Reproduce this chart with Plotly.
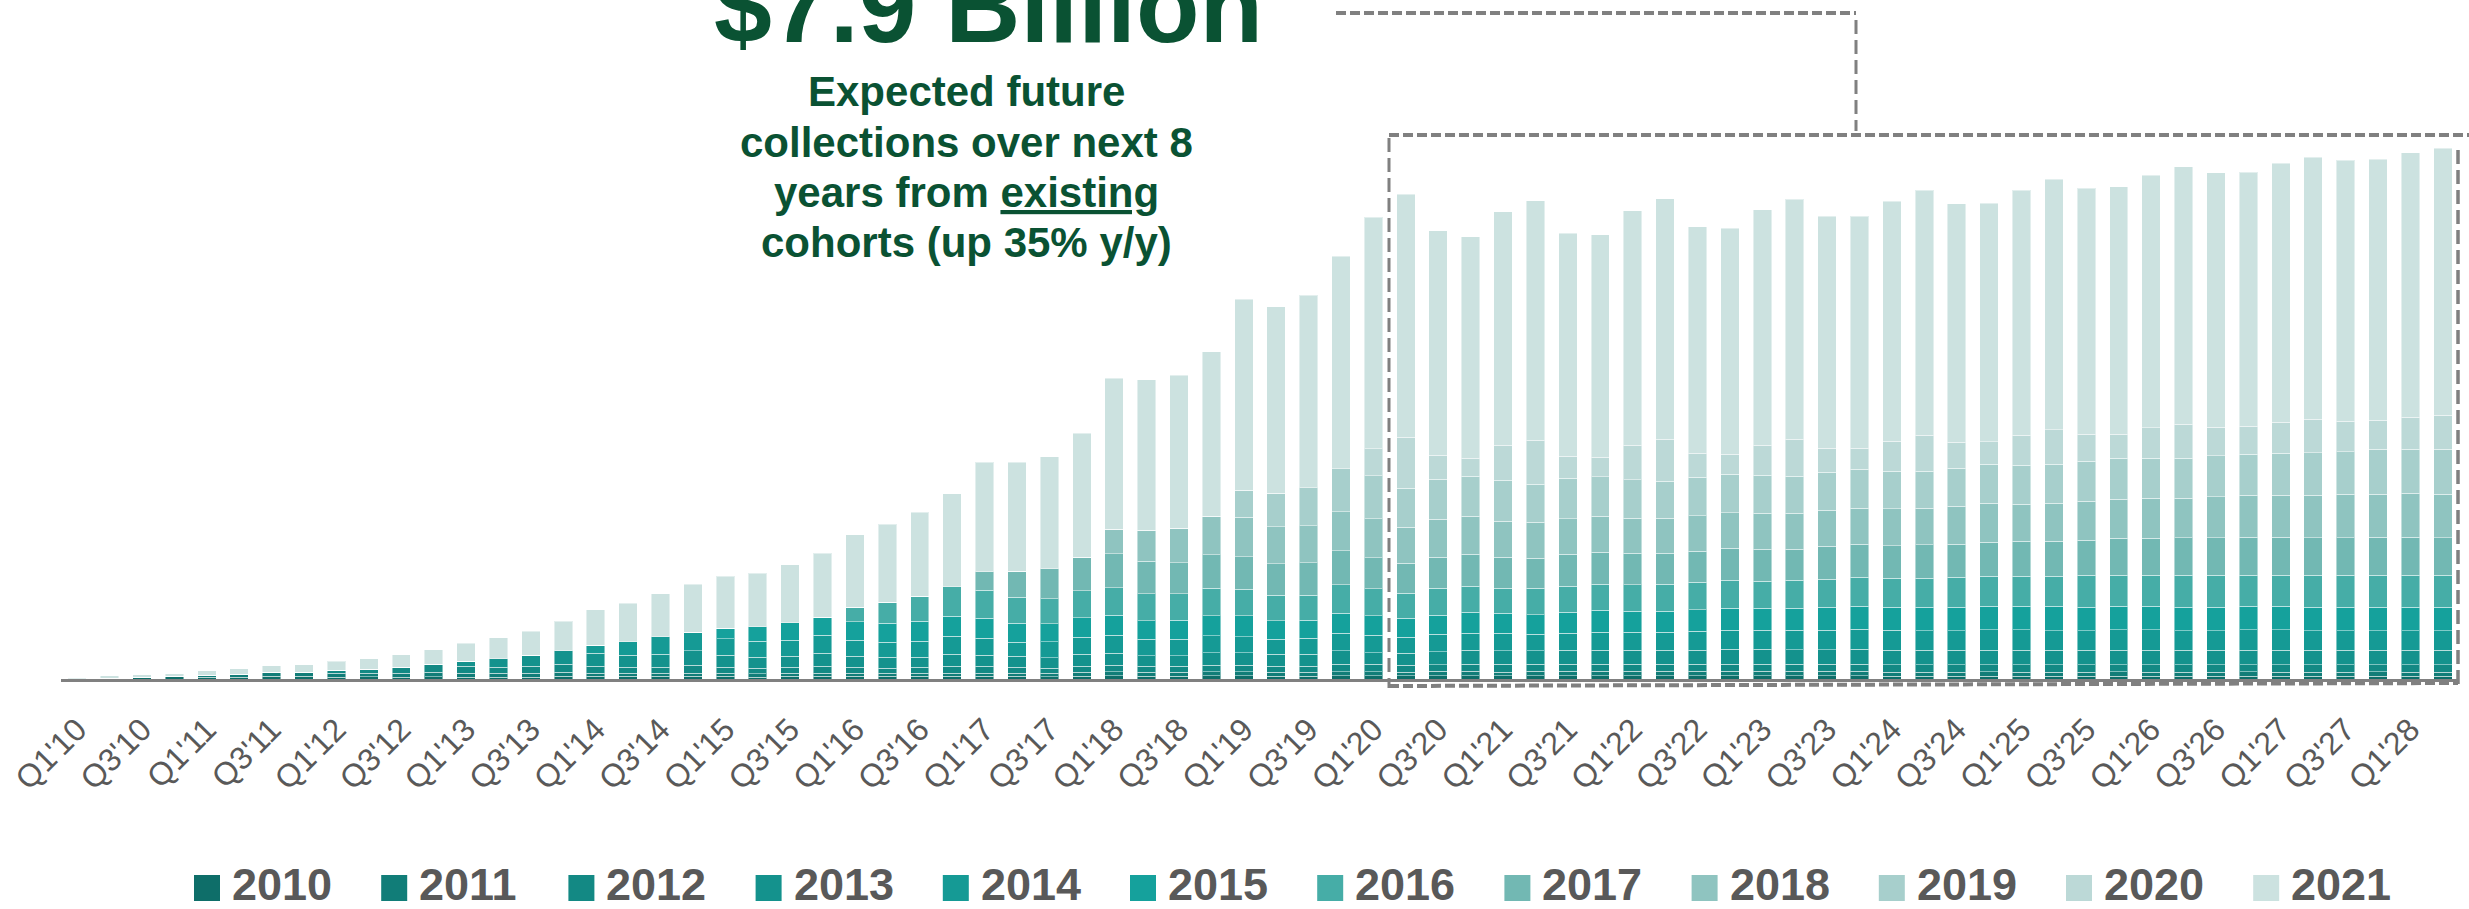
import plotly.graph_objects as go

# ---------------- data (quarterly collections by cohort, relative units) ----------------
quarters = [f"Q{q}'{y:02d}" for y in range(10, 29) for q in range(1, 5)][:74]
tick_labels = quarters[::2]

cohorts = ["2010", "2011", "2012", "2013", "2014", "2015",
           "2016", "2017", "2018", "2019", "2020", "2021"]

c2010 = [0.3, 0.7, 1.7, 2.7, 1.7, 2.0, 2.7, 2.7, 2.0, 2.3,
         2.0, 2.3, 2.0, 2.0, 2.0, 2.7, 2.7, 2.7, 2.7, 2.7,
         2.7, 2.0, 2.7, 2.7, 2.7, 2.7, 2.7, 2.7, 2.7, 2.7,
         2.3, 3.0, 3.3, 3.0, 3.0, 3.3, 3.3, 3.0, 3.0, 3.3,
         3.3, 3.3, 3.3, 3.3, 3.3, 3.3, 3.3, 3.3, 3.3, 3.3,
         3.3, 3.3, 3.3, 3.3, 3.3, 3.3,
         3.0, 3.0, 3.0, 3.0, 3.0, 3.0, 3.0, 3.0, 3.0, 3.0,
         3.0, 3.0, 3.0, 3.0, 3.0, 3.0, 3.0, 3.0]
c2011 = [0, 0, 0, 0, 2.0, 2.7, 4.0, 4.0, 4.0, 3.7,
         4.0, 4.7, 4.0, 4.0, 4.0, 4.0, 3.3, 3.3, 3.3, 3.3,
         3.3, 3.3, 3.3, 3.3, 3.3, 3.3, 3.3, 3.3, 3.3, 3.3,
         3.4, 3.7, 4.0, 3.7, 3.7, 4.0, 4.0, 3.7, 3.7, 4.0,
         4.0, 3.7, 4.4, 4.7, 3.7, 4.4, 4.4, 4.7, 4.4, 4.4,
         4.4, 4.4, 4.4, 4.4, 4.4, 4.4,
         4.0, 4.0, 4.0, 4.3, 4.0, 4.0, 4.0, 4.3, 4.0, 4.0,
         4.0, 4.3, 4.0, 4.0, 4.0, 4.3, 4.0, 4.0]
c2012 = [0, 0, 0, 0, 0, 0, 0, 0, 2.7, 3.7,
         5.7, 7.7, 6.7, 6.0, 6.7, 8.3, 6.7, 6.0, 6.0, 8.0,
         6.0, 5.7, 6.0, 6.7, 6.0, 4.7, 6.0, 6.7, 6.7, 6.0,
         5.0, 6.3, 6.7, 6.3, 6.3, 6.7, 6.7, 6.3, 6.3, 7.7,
         7.7, 6.7, 6.6, 7.0, 8.0, 7.3, 7.3, 7.0, 7.3, 7.3,
         7.3, 7.3, 7.3, 7.3, 7.3, 7.3,
         7.5, 7.5, 7.5, 7.2, 7.5, 7.5, 7.5, 7.2, 7.5, 7.5,
         7.5, 7.2, 7.5, 7.5, 7.5, 7.2, 7.5, 7.5]
c2013 = [0, 0, 0, 0, 0, 0, 0, 0, 0, 0,
         0, 0, 5.0, 8.3, 11.0, 13.3, 13.3, 11.7, 13.0, 14.3,
         12.0, 11.0, 10.7, 13.3, 10.7, 11.3, 9.7, 12.0, 11.0, 10.7,
         10.6, 11.7, 11.7, 10.3, 10.3, 12.3, 12.3, 11.7, 11.7, 13.3,
         11.3, 12.3, 13.0, 13.7, 13.3, 13.3, 14.0, 14.0, 14.0, 14.0,
         14.0, 15.0, 15.0, 14.3, 14.3, 15.0,
         14.1, 14.1, 14.1, 14.1, 14.1, 14.1, 14.1, 14.1, 14.1, 14.1,
         14.1, 14.1, 14.1, 14.1, 14.1, 14.1, 14.1, 14.1]
c2014 = [0, 0, 0, 0, 0, 0, 0, 0, 0, 0,
         0, 0, 0, 0, 0, 0, 7.7, 13.6, 17.3, 18.7,
         16.3, 15.7, 16.0, 17.7, 16.3, 15.0, 16.0, 18.0, 17.3, 14.3,
         16.0, 17.0, 18.0, 16.4, 16.4, 17.0, 16.0, 15.0, 16.0, 17.4,
         17.4, 15.7, 17.7, 17.3, 17.4, 16.7, 17.0, 17.7, 17.7, 17.7,
         19.0, 19.0, 19.0, 19.7, 19.7, 20.0,
         20.4, 19.7, 19.7, 20.8, 20.8, 19.7, 19.7, 20.8, 20.8, 19.7,
         19.7, 20.8, 20.8, 19.7, 19.7, 19.7, 19.7, 19.7]
c2015 = [0, 0, 0, 0, 0, 0, 0, 0, 0, 0,
         0, 0, 0, 0, 0, 0, 0, 0, 0, 0,
         10.7, 14.6, 17.6, 18.3, 18.3, 18.7, 20.0, 20.3, 19.7, 18.7,
         18.0, 19.6, 20.0, 18.6, 19.3, 20.0, 21.0, 18.6, 18.3, 20.3,
         19.6, 19.0, 19.0, 20.7, 20.0, 19.3, 20.7, 22.0, 21.0, 21.0,
         21.3, 22.0, 21.7, 22.0, 23.0, 23.0,
         22.9, 23.6, 23.6, 23.2, 23.2, 24.3, 23.6, 23.2, 23.2, 23.6,
         23.6, 23.2, 23.2, 23.6, 23.6, 23.6, 23.6, 23.6]
c2016 = [0, 0, 0, 0, 0, 0, 0, 0, 0, 0,
         0, 0, 0, 0, 0, 0, 0, 0, 0, 0,
         0, 0, 0, 0, 14.4, 21.3, 25.3, 29.3, 28.0, 26.0,
         25.0, 27.0, 27.6, 27.0, 26.3, 27.7, 26.7, 25.7, 25.0, 28.3,
         27.0, 25.0, 26.7, 26.0, 25.0, 26.7, 26.0, 26.3, 26.6, 27.3,
         27.4, 27.7, 27.0, 27.7, 28.0, 28.7,
         29.0, 29.0, 30.0, 30.0, 30.0, 30.0, 31.8, 31.1, 31.1, 31.8,
         31.8, 31.1, 31.1, 31.8, 31.8, 31.8, 31.8, 31.8]
c2017 = [0, 0, 0, 0, 0, 0, 0, 0, 0, 0,
         0, 0, 0, 0, 0, 0, 0, 0, 0, 0,
         0, 0, 0, 0, 0, 0, 0, 0, 18.6, 26.3,
         30.0, 33.7, 34.0, 32.7, 31.0, 33.3, 32.3, 31.3, 32.3, 34.0,
         31.0, 30.0, 31.0, 32.3, 31.0, 29.7, 32.0, 32.0, 31.4, 30.7,
         31.0, 32.0, 32.3, 31.0, 32.7, 33.0,
         32.5, 33.2, 32.9, 34.0, 35.1, 35.1, 35.1, 36.9, 36.9, 37.6,
         37.6, 38.3, 38.3, 37.6, 37.6, 38.3, 38.3, 37.6]
c2018 = [0, 0, 0, 0, 0, 0, 0, 0, 0, 0,
         0, 0, 0, 0, 0, 0, 0, 0, 0, 0,
         0, 0, 0, 0, 0, 0, 0, 0, 0, 0,
         0, 0, 24.7, 31.0, 34.7, 38.7, 39.7, 37.0, 37.0, 39.0,
         39.0, 36.0, 38.3, 37.7, 36.3, 36.0, 35.6, 35.7, 35.0, 35.0,
         35.6, 35.6, 35.7, 36.0, 36.3, 36.0,
         36.8, 36.9, 37.9, 39.4, 37.2, 38.3, 39.0, 39.3, 40.0, 39.7,
         41.1, 41.8, 41.8, 42.5, 43.6, 42.9, 44.0, 43.6]
c2019 = [0, 0, 0, 0, 0, 0, 0, 0, 0, 0,
         0, 0, 0, 0, 0, 0, 0, 0, 0, 0,
         0, 0, 0, 0, 0, 0, 0, 0, 0, 0,
         0, 0, 0, 0, 0, 0, 27.0, 33.4, 38.0, 43.0,
         43.0, 39.0, 39.7, 40.0, 40.7, 38.3, 40.4, 39.6, 38.6, 37.3,
         38.7, 38.4, 38.0, 37.0, 37.7, 39.0,
         37.6, 36.8, 38.3, 39.0, 39.0, 39.0, 40.0, 41.1, 40.4, 40.0,
         40.8, 40.8, 41.9, 42.6, 42.6, 45.1, 44.0, 45.1]
c2020 = [0, 0, 0, 0, 0, 0, 0, 0, 0, 0,
         0, 0, 0, 0, 0, 0, 0, 0, 0, 0,
         0, 0, 0, 0, 0, 0, 0, 0, 0, 0,
         0, 0, 0, 0, 0, 0, 0, 0, 0, 0,
         27.0, 51.0, 24.0, 18.3, 35.0, 43.7, 22.3, 19.7, 34.4, 41.7,
         23.7, 20.3, 30.0, 37.0, 24.0, 21.0,
         30.0, 36.1, 25.8, 22.1, 30.0, 34.3, 26.8, 23.6, 30.1, 34.0,
         28.6, 28.3, 31.1, 33.6, 30.4, 28.9, 31.8, 34.0]
c2021 = [1.0, 2.6, 2.6, 2.6, 4.6, 5.6, 6.6, 7.6, 9.0, 10.6,
         12.6, 14.6, 18.3, 21.0, 24.0, 29.4, 35.6, 38.4, 43.0, 48.0,
         51.7, 53.7, 58.0, 64.0, 72.6, 78.0, 84.0, 93.0, 109.4, 108.7,
         112.0, 124.0, 151.0, 150.3, 153.0, 164.3, 190.7, 186.6, 192.7, 212.7,
         231.4, 243.3, 224.6, 221.3, 233.6, 239.6, 223.0, 222.3, 234.6, 240.6,
         226.6, 225.7, 235.6, 240.3, 232.0, 232.0,
         240.0, 245.0, 238.5, 238.9, 245.0, 250.7, 246.4, 247.9, 252.5, 257.2,
         254.3, 253.9, 258.9, 261.8, 261.1, 261.1, 264.7, 266.8]

series = [c2010, c2011, c2012, c2013, c2014, c2015,
          c2016, c2017, c2018, c2019, c2020, c2021]

colors = ["#0e6e69", "#117d78", "#138984", "#14928d", "#159a95", "#15a19c",
          "#46ada7", "#72b8b3", "#8fc4c0", "#a7cfcc", "#bcd9d7", "#cce2e0"]

title_text = "<b>$7.9 Billion</b>"
sub_lines = ["<b>Expected future</b>",
             "<b>collections over next 8</b>",
             "<b>years from <u>existing</u></b>",
             "<b>cohorts (up 35% y/y)</b>"]

# ---------------- layout geometry (pixels) ----------------
W, H = 2469, 909
ML, MR, MT, MB = 61, 10, 0, 230
PW, PH = W - ML - MR, H - MT - MB

def px(xp):
    return (xp - ML) / PW

def py(yp):
    return (PH - yp) / PH

GREEN = "#0a5233"
GREY_TXT = "#595959"
DASH_GREY = "#808080"
FONT = "Liberation Sans, Arial, Helvetica, sans-serif"

fig = go.Figure()
for name, vals, col in zip(cohorts, series, colors):
    fig.add_trace(go.Bar(
        x=quarters, y=vals, name=name,
        marker=dict(color=col, line=dict(color="rgba(255,255,255,0.45)", width=1)),
        showlegend=False,
    ))

annotations = []
annotations.append(dict(x=px(988), y=py(6), xref="paper", yref="paper",
                        text=title_text, showarrow=False, xanchor="center", yanchor="middle",
                        font=dict(family=FONT, size=104, color=GREEN)))
for line, base in zip(sub_lines, [106, 157, 207, 257]):
    annotations.append(dict(x=px(966), y=py(base - 14.6), xref="paper", yref="paper",
                            text=line, showarrow=False, xanchor="center", yanchor="middle",
                            font=dict(family=FONT, size=42, color=GREEN)))

shapes = []
# manual legend (large swatches, as in the reference)
for k, (name, col) in enumerate(zip(cohorts, colors)):
    x0 = 194 + 187.2 * k
    shapes.append(dict(type="rect", xref="paper", yref="paper",
                       x0=px(x0), x1=px(x0 + 26), y0=py(875), y1=py(901),
                       fillcolor=col, line=dict(width=0)))
    annotations.append(dict(x=px(x0 + 36), y=py(884), xref="paper", yref="paper",
                            text="<b>" + name + "</b>", showarrow=False,
                            xanchor="left", yanchor="middle",
                            font=dict(family=FONT, size=45, color=GREY_TXT)))

def dline(x0, y0, x1, y1, w, dash):
    shapes.append(dict(type="line", xref="paper", yref="paper",
                       x0=px(x0), y0=py(y0), x1=px(x1), y1=py(y1),
                       line=dict(color=DASH_GREY, width=w, dash=dash)))

dline(1336, 13, 1856, 13, 4, "10px,4px")
dline(1856, 20, 1856, 131, 3, "14px,6px")
dline(1389, 135, 2469, 135, 4, "10px,4px")
dline(1389, 138, 1389, 688, 3, "14px,6px")
dline(1389, 686, 2458, 683, 4, "10px,4px")
dline(2458, 150, 2458, 686, 3.5, "14px,6px")

fig.update_layout(
    width=W, height=H,
    margin=dict(l=ML, r=MR, t=MT, b=MB, pad=0),
    barmode="stack", bargap=0.43,
    paper_bgcolor="white", plot_bgcolor="white",
    showlegend=False,
    annotations=annotations, shapes=shapes,
    xaxis=dict(type="category", categoryorder="array", categoryarray=quarters,
               tickmode="array", tickvals=tick_labels, ticktext=tick_labels,
               tickangle=-45, tickfont=dict(family=FONT, size=32, color=GREY_TXT),
               showline=True, linecolor=DASH_GREY, linewidth=3,
               ticks="outside", ticklen=16, tickcolor="rgba(0,0,0,0)",
               showgrid=False, zeroline=False, automargin=False,
               range=[-0.5, 73.5]),
    yaxis=dict(visible=False, range=[0, PH], showgrid=False, zeroline=False,
               automargin=False),
)

fig.write_html("out.html", config={"displayModeBar": False})
